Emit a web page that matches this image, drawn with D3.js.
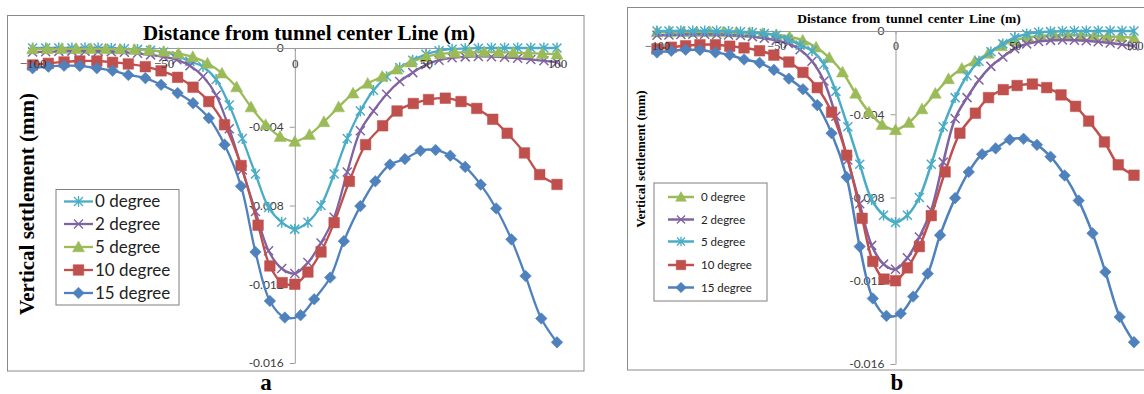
<!DOCTYPE html>
<html>
<head>
<meta charset="utf-8">
<script src="https://cdn.jsdelivr.net/npm/d3@7"></script>
<style>
body{margin:0;background:#fff}
</style>
</head>
<body>
<div id="viz-container"></div>
<script>
// distance from tunnel center line (m) for each curve
let xStep5 = [-100,-95,-90,-85,-80,-75,-70,-65,-60,-55,-50,-45,-40,-35,-30,-25,-20,-15,-10,-5,0,
  5,10,15,20,25,30,35,40,45,50,55,60,65,70,75,80,85,90,95,100];
let xGreen = [-100,-94.4,-88.9,-83.3,-77.8,-72.2,-66.7,-61.1,-55.6,-50,-44.4,-38.9,-33.3,-27.8,-22.2,-16.7,-11.1,-5.6,0,
  5.6,11.1,16.7,22.2,27.8,33.3,38.9,44.4,50,55.6,61.1,66.7,72.2,77.8,83.3,88.9,94.4,100];
let xRed = [-100,-94,-88,-82,-75.5,-69.5,-63.5,-57,-51,-44.7,-38.8,-32.8,-26.8,-20.5,-14,-9.5,-4.8,0,
  5,10,15,20.8,27,33.5,39,45.2,51,57.4,63.4,69.4,75.5,81,87.6,93.4,100];
let xBlue = [-100,-94,-88,-82,-75.5,-69.5,-63.5,-57,-51,-44.7,-38.8,-32.8,-26.8,-20.5,-15,-9.5,-3.8,
  2.2,7.4,13.5,18.7,25,30.7,36.3,42,47.9,53.7,59.3,65,70.9,76.8,82.6,88,94,100];

// vertical settlement, in thousandths (x 0.001 mm)
let cyanVals = [0,0,0,0,0,0,-0.02,-0.04,-0.07,-0.12,-0.2,-0.4,-0.68,-0.95,-1.6,-2.9,-4.6,-6.4,-8.1,-8.85,-9.2,
  -8.85,-8.0,-6.4,-4.6,-3.2,-2.15,-1.45,-1.0,-0.62,-0.32,-0.14,-0.06,-0.03,-0.01,0,0,0,0,0,0];
let purpleVals = [-0.2,-0.19,-0.17,-0.16,-0.16,-0.17,-0.19,-0.22,-0.27,-0.35,-0.45,-0.6,-0.9,-1.45,-2.4,-4.1,-6.2,-8.3,-10.3,-11.2,-11.45,
  -10.9,-9.9,-8.6,-6.3,-4.2,-3.2,-2.35,-1.7,-1.25,-0.85,-0.62,-0.5,-0.45,-0.43,-0.44,-0.47,-0.52,-0.58,-0.65,-0.72];
let greenVals = [-0.05,-0.05,-0.04,-0.04,-0.04,-0.05,-0.06,-0.08,-0.12,-0.18,-0.28,-0.45,-0.78,-1.28,-1.98,-3.0,-3.9,-4.5,-4.75,
  -4.4,-3.75,-3.0,-2.3,-1.8,-1.45,-1.08,-0.72,-0.45,-0.3,-0.24,-0.21,-0.2,-0.21,-0.23,-0.26,-0.29,-0.32];
let redVals = [-0.86,-0.78,-0.71,-0.66,-0.66,-0.73,-0.81,-0.95,-1.16,-1.49,-1.99,-2.72,-3.9,-5.97,-9.0,-11.07,-11.92,-12.0,
  -11.38,-10.36,-8.87,-6.77,-4.91,-3.95,-3.2,-2.82,-2.62,-2.55,-2.72,-3.07,-3.62,-4.33,-5.33,-6.43,-6.93];
let blueVals = [-1.03,-0.95,-0.9,-0.91,-1.03,-1.15,-1.37,-1.53,-1.87,-2.29,-2.8,-3.56,-4.91,-7.02,-10.36,-12.85,-13.69,
  -13.57,-12.76,-11.66,-9.81,-8.03,-6.77,-5.92,-5.64,-5.22,-5.18,-5.47,-6.04,-6.94,-8.15,-9.72,-11.58,-13.74,-14.95];

let xTicks = [-100,-50,0,50,100];
let yTicks = [0,-4,-8,-12,-16];
let yTickLabels = ["0","-0.004","-0.008","-0.012","-0.016"];

let labelsA = ["0 degree","2 degree","5 degree","10 degree","15 degree"];
let labelsB = ["0 degree","2 degree","5 degree","10 degree","15 degree"];

let viz = d3.select("#viz-container")
  .append("svg")
    .attr("width",1144)
    .attr("height",394)
    .style("display","block");

// marker shapes, "size" is used as the half width
let diamond = {draw(c,r){c.moveTo(0,-r);c.lineTo(r,0);c.lineTo(0,r);c.lineTo(-r,0);c.closePath();}};
let square = {draw(c,r){c.moveTo(-r,-r);c.lineTo(r,-r);c.lineTo(r,r);c.lineTo(-r,r);c.closePath();}};
let triangle = {draw(c,r){c.moveTo(0,-r);c.lineTo(r,r*0.8);c.lineTo(-r,r*0.8);c.closePath();}};
let cross = {draw(c,r){c.moveTo(-r,-r);c.lineTo(r,r);c.moveTo(-r,r);c.lineTo(r,-r);}};
let star = {draw(c,r){c.moveTo(-r,-r);c.lineTo(r,r);c.moveTo(-r,r);c.lineTo(r,-r);c.moveTo(0,-r*1.2);c.lineTo(0,r*1.2);}};

let series = {
  cyan:   {xs:xStep5, vals:cyanVals,   color:"#4bacc6", shape:star,     fill:false, r:4.5},
  purple: {xs:xStep5, vals:purpleVals, color:"#8064a2", shape:cross,    fill:false, r:4.5},
  green:  {xs:xGreen, vals:greenVals,  color:"#9bbb59", shape:triangle, fill:true,  r:6},
  red:    {xs:xRed,   vals:redVals,    color:"#c0504d", shape:square,   fill:true,  r:5.3},
  blue:   {xs:xBlue,  vals:blueVals,   color:"#4f81bd", shape:diamond,  fill:true,  r:5.8}
};

function drawPanel(p){
  let g = viz.append("g");

  g.append("rect")
    .attr("x",p.box[0]).attr("y",p.box[1])
    .attr("width",p.box[2]).attr("height",p.box[3])
    .attr("fill","none").attr("stroke","#8a8a8a").attr("stroke-width",1);

  let x = d3.scaleLinear().domain([-100,100]).range(p.xr);
  let y = d3.scaleLinear().domain([0,-16]).range(p.yr);

  let ya = g.append("g")
    .attr("transform","translate("+x(0)+",0)")
    .call(d3.axisLeft(y).tickValues(yTicks).tickFormat((d,i)=>yTickLabels[i])
      .tickSizeInner(5).tickSizeOuter(0).tickPadding(6));
  ya.select(".domain").attr("stroke","#9a9a9a");
  ya.selectAll(".tick line").attr("stroke","#9a9a9a");
  ya.selectAll("text").attr("font-family","Lato,sans-serif")
    .attr("font-size",12).attr("fill","#404040");

  // x axis sits on the zero line
  let xa = g.append("g")
    .attr("transform","translate(0,"+y(0)+")")
    .call(d3.axisBottom(x).tickValues(xTicks).tickFormat(d3.format("d"))
      .tickSizeInner(3).tickSizeOuter(0).tickPadding(p.xPad));
  xa.select(".domain").attr("stroke","#9a9a9a");
  xa.selectAll(".tick line").attr("stroke","#9a9a9a");
  xa.selectAll("text").remove();

  let line = d3.line()
    .x(d=>x(d[0])).y(d=>y(d[1]))
    .curve(d3.curveCatmullRom.alpha(0.5));

  p.order.forEach(function(key){
    let s = series[key];
    let pts = s.xs.map((v,i)=>[v,s.vals[i]]);
    g.append("path")
      .attr("d",line(pts))
      .attr("fill","none")
      .attr("stroke",s.color)
      .attr("stroke-width",p.lw);
    g.selectAll(".m-"+key).data(pts).enter()
      .append("path")
        .attr("class","m-"+key)
        .attr("transform",d=>"translate("+x(d[0])+","+y(d[1])+")")
        .attr("d",d3.symbol().type(s.shape).size(s.r*p.ms))
        .attr("fill",s.fill ? s.color : "none")
        .attr("stroke",s.color)
        .attr("stroke-width",s.fill ? 0.5 : 1.5);
  });

  // x tick labels drawn over the curves, as in the original
  let xl = g.append("g")
    .attr("transform","translate(0,"+y(0)+")")
    .call(d3.axisBottom(x).tickValues(xTicks).tickFormat(d3.format("d"))
      .tickSizeInner(3).tickSizeOuter(0).tickPadding(p.xPad));
  xl.select(".domain").remove();
  xl.selectAll(".tick line").remove();
  xl.selectAll("text").attr("font-family","'Liberation Serif',serif")
    .attr("font-size",p.tickFont).attr("fill","#333");

  g.append("text")
    .text("Distance from tunnel center Line (m)")
    .attr("x",p.title[0]).attr("y",p.title[1])
    .attr("text-anchor","middle")
    .attr("font-family","'Liberation Serif',serif")
    .attr("font-weight","bold")
    .attr("font-size",p.title[2])
    .attr("word-spacing",p.title[3]);

  g.append("text")
    .text("Vertical settlement (mm)")
    .attr("transform","translate("+p.ytitle[0]+","+p.ytitle[1]+") rotate(-90)")
    .attr("text-anchor","middle")
    .attr("font-family","'Liberation Serif',serif")
    .attr("font-weight","bold")
    .attr("font-size",p.ytitle[2]);

  // legend
  let L = p.legend;
  g.append("rect")
    .attr("x",L.box[0]).attr("y",L.box[1])
    .attr("width",L.box[2]).attr("height",L.box[3])
    .attr("fill","#fff").attr("stroke","#7f7f7f").attr("stroke-width",1);
  let items = g.selectAll(".leg").data(L.keys).enter()
    .append("g")
      .attr("transform",(d,i)=>"translate(0,"+L.ys[i]+")");
  items.append("line")
    .attr("x1",L.x1).attr("x2",L.x2)
    .attr("stroke",d=>series[d].color)
    .attr("stroke-width",p.lw);
  items.append("path")
    .attr("transform","translate("+((L.x1+L.x2)/2)+",0)")
    .attr("d",d=>d3.symbol().type(series[d].shape).size(series[d].r*L.ms)())
    .attr("fill",d=>series[d].fill ? series[d].color : "none")
    .attr("stroke",d=>series[d].color)
    .attr("stroke-width",d=>series[d].fill ? 0.5 : 1.3);
  items.append("text")
    .text((d,i)=>L.labels[i])
    .attr("x",L.tx)
    .attr("dy","0.35em")
    .attr("font-family","Lato,sans-serif")
    .attr("font-size",L.font)
    .attr("fill","#222");

  g.append("text")
    .text(p.tag[0])
    .attr("x",p.tag[1]).attr("y",p.tag[2])
    .attr("text-anchor","middle")
    .attr("font-family","'Liberation Serif',serif")
    .attr("font-weight","bold")
    .attr("font-size",23);
}

drawPanel({
  box:[7.5,15.5,576.5,355.5],
  xr:[32.6,557], yr:[48,363],
  xPad:8, tickFont:13, lw:2.3, ms:1,
  order:["cyan","purple","green","red","blue"],
  title:[309,39.5,21,0],
  ytitle:[34,204,21],
  legend:{box:[56,189.5,123,115.5], keys:["cyan","purple","green","red","blue"],
    labels:labelsA, ys:[201.5,224,247,270,293], x1:64, x2:93, tx:95, font:17, ms:1},
  tag:["a",266,390]
});

drawPanel({
  box:[627.5,7.5,530,362.5],
  xr:[657,1134], yr:[31,364],
  xPad:7, tickFont:12, lw:2.5, ms:1,
  order:["green","purple","cyan","red","blue"],
  title:[909,22.5,13.5,2],
  ytitle:[645,159,13],
  legend:{box:[654,183,113,118], keys:["green","purple","cyan","red","blue"],
    labels:labelsB, ys:[197,219.5,241.5,265,287.5], x1:668, x2:694, tx:701, font:11.5, ms:0.9},
  tag:["b",897,390]
});
</script>
</body>
</html>
